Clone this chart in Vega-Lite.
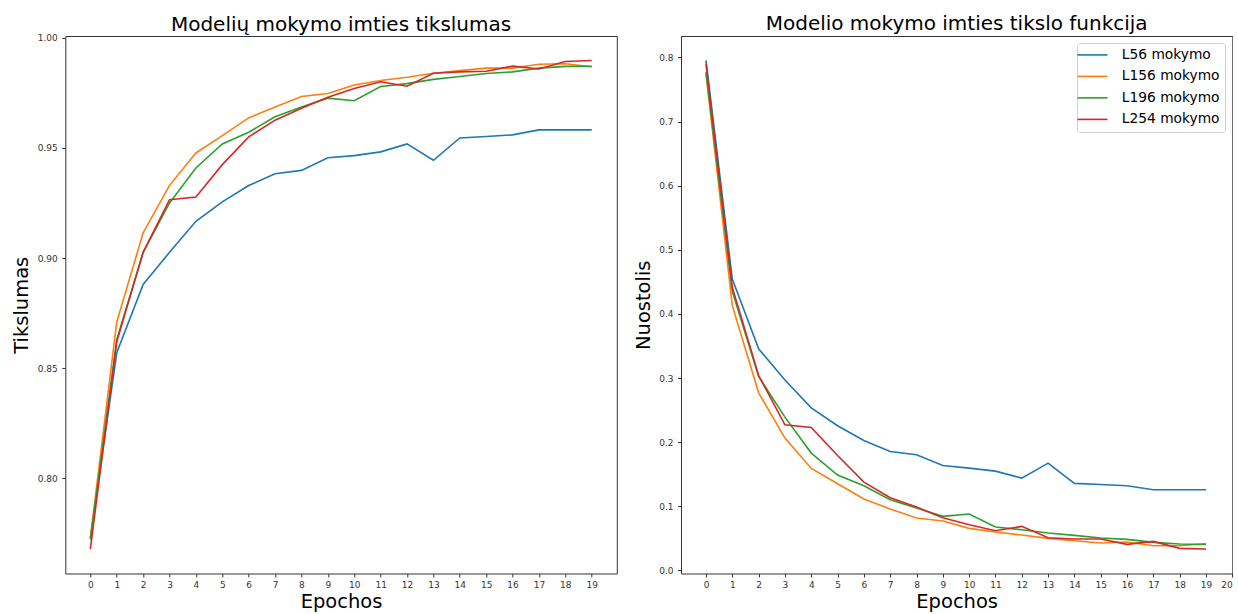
{
"$schema": "https://vega.github.io/schema/vega-lite/v6.json",
"background": "white",
"padding": {"left": 10.3, "top": 13, "right": 0, "bottom": 0},
"datasets": {
"acc": [
{"model":"L56 mokymo","epoch":0,"value":0.773},{"model":"L56 mokymo","epoch":1,"value":0.857},{"model":"L56 mokymo","epoch":2,"value":0.888},{"model":"L56 mokymo","epoch":3,"value":0.9026},{"model":"L56 mokymo","epoch":4,"value":0.9167},{"model":"L56 mokymo","epoch":5,"value":0.9255},{"model":"L56 mokymo","epoch":6,"value":0.9329},{"model":"L56 mokymo","epoch":7,"value":0.9383},{"model":"L56 mokymo","epoch":8,"value":0.9398},{"model":"L56 mokymo","epoch":9,"value":0.9455},{"model":"L56 mokymo","epoch":10,"value":0.9465},{"model":"L56 mokymo","epoch":11,"value":0.9482},{"model":"L56 mokymo","epoch":12,"value":0.9518},{"model":"L56 mokymo","epoch":13,"value":0.9444},{"model":"L56 mokymo","epoch":14,"value":0.9545},{"model":"L56 mokymo","epoch":15,"value":0.9552},{"model":"L56 mokymo","epoch":16,"value":0.9559},{"model":"L56 mokymo","epoch":17,"value":0.9582},{"model":"L56 mokymo","epoch":18,"value":0.9582},{"model":"L56 mokymo","epoch":19,"value":0.9582},
{"model":"L156 mokymo","epoch":0,"value":0.773},{"model":"L156 mokymo","epoch":1,"value":0.871},{"model":"L156 mokymo","epoch":2,"value":0.9114},{"model":"L156 mokymo","epoch":3,"value":0.933},{"model":"L156 mokymo","epoch":4,"value":0.9477},{"model":"L156 mokymo","epoch":5,"value":0.9556},{"model":"L156 mokymo","epoch":6,"value":0.9636},{"model":"L156 mokymo","epoch":7,"value":0.9686},{"model":"L156 mokymo","epoch":8,"value":0.9733},{"model":"L156 mokymo","epoch":9,"value":0.9747},{"model":"L156 mokymo","epoch":10,"value":0.9786},{"model":"L156 mokymo","epoch":11,"value":0.9806},{"model":"L156 mokymo","epoch":12,"value":0.9821},{"model":"L156 mokymo","epoch":13,"value":0.9839},{"model":"L156 mokymo","epoch":14,"value":0.9851},{"model":"L156 mokymo","epoch":15,"value":0.9862},{"model":"L156 mokymo","epoch":16,"value":0.9862},{"model":"L156 mokymo","epoch":17,"value":0.988},{"model":"L156 mokymo","epoch":18,"value":0.9882},{"model":"L156 mokymo","epoch":19,"value":0.9868},
{"model":"L196 mokymo","epoch":0,"value":0.7722},{"model":"L196 mokymo","epoch":1,"value":0.863},{"model":"L196 mokymo","epoch":2,"value":0.9026},{"model":"L196 mokymo","epoch":3,"value":0.925},{"model":"L196 mokymo","epoch":4,"value":0.9409},{"model":"L196 mokymo","epoch":5,"value":0.9518},{"model":"L196 mokymo","epoch":6,"value":0.9571},{"model":"L196 mokymo","epoch":7,"value":0.9641},{"model":"L196 mokymo","epoch":8,"value":0.9686},{"model":"L196 mokymo","epoch":9,"value":0.9726},{"model":"L196 mokymo","epoch":10,"value":0.9714},{"model":"L196 mokymo","epoch":11,"value":0.9779},{"model":"L196 mokymo","epoch":12,"value":0.9792},{"model":"L196 mokymo","epoch":13,"value":0.9811},{"model":"L196 mokymo","epoch":14,"value":0.9824},{"model":"L196 mokymo","epoch":15,"value":0.9838},{"model":"L196 mokymo","epoch":16,"value":0.9845},{"model":"L196 mokymo","epoch":17,"value":0.9862},{"model":"L196 mokymo","epoch":18,"value":0.987},{"model":"L196 mokymo","epoch":19,"value":0.9871},
{"model":"L254 mokymo","epoch":0,"value":0.7679},{"model":"L254 mokymo","epoch":1,"value":0.862},{"model":"L254 mokymo","epoch":2,"value":0.9026},{"model":"L254 mokymo","epoch":3,"value":0.9265},{"model":"L254 mokymo","epoch":4,"value":0.9277},{"model":"L254 mokymo","epoch":5,"value":0.9424},{"model":"L254 mokymo","epoch":6,"value":0.955},{"model":"L254 mokymo","epoch":7,"value":0.9626},{"model":"L254 mokymo","epoch":8,"value":0.968},{"model":"L254 mokymo","epoch":9,"value":0.973},{"model":"L254 mokymo","epoch":10,"value":0.977},{"model":"L254 mokymo","epoch":11,"value":0.98},{"model":"L254 mokymo","epoch":12,"value":0.978},{"model":"L254 mokymo","epoch":13,"value":0.9839},{"model":"L254 mokymo","epoch":14,"value":0.9845},{"model":"L254 mokymo","epoch":15,"value":0.9848},{"model":"L254 mokymo","epoch":16,"value":0.9871},{"model":"L254 mokymo","epoch":17,"value":0.9858},{"model":"L254 mokymo","epoch":18,"value":0.9892},{"model":"L254 mokymo","epoch":19,"value":0.9897}
],
"loss": [
{"model":"L56 mokymo","epoch":0,"value":0.7953},{"model":"L56 mokymo","epoch":1,"value":0.4542},{"model":"L56 mokymo","epoch":2,"value":0.3455},{"model":"L56 mokymo","epoch":3,"value":0.297},{"model":"L56 mokymo","epoch":4,"value":0.2535},{"model":"L56 mokymo","epoch":5,"value":0.2255},{"model":"L56 mokymo","epoch":6,"value":0.2026},{"model":"L56 mokymo","epoch":7,"value":0.1855},{"model":"L56 mokymo","epoch":8,"value":0.1803},{"model":"L56 mokymo","epoch":9,"value":0.1636},{"model":"L56 mokymo","epoch":10,"value":0.1595},{"model":"L56 mokymo","epoch":11,"value":0.1548},{"model":"L56 mokymo","epoch":12,"value":0.1439},{"model":"L56 mokymo","epoch":13,"value":0.1673},{"model":"L56 mokymo","epoch":14,"value":0.1356},{"model":"L56 mokymo","epoch":15,"value":0.134},{"model":"L56 mokymo","epoch":16,"value":0.132},{"model":"L56 mokymo","epoch":17,"value":0.1257},{"model":"L56 mokymo","epoch":18,"value":0.1257},{"model":"L56 mokymo","epoch":19,"value":0.1257},
{"model":"L156 mokymo","epoch":0,"value":0.775},{"model":"L156 mokymo","epoch":1,"value":0.4128},{"model":"L156 mokymo","epoch":2,"value":0.2769},{"model":"L156 mokymo","epoch":3,"value":0.2062},{"model":"L156 mokymo","epoch":4,"value":0.159},{"model":"L156 mokymo","epoch":5,"value":0.135},{"model":"L156 mokymo","epoch":6,"value":0.1112},{"model":"L156 mokymo","epoch":7,"value":0.0956},{"model":"L156 mokymo","epoch":8,"value":0.0816},{"model":"L156 mokymo","epoch":9,"value":0.0769},{"model":"L156 mokymo","epoch":10,"value":0.0655},{"model":"L156 mokymo","epoch":11,"value":0.0597},{"model":"L156 mokymo","epoch":12,"value":0.0551},{"model":"L156 mokymo","epoch":13,"value":0.0499},{"model":"L156 mokymo","epoch":14,"value":0.0462},{"model":"L156 mokymo","epoch":15,"value":0.0426},{"model":"L156 mokymo","epoch":16,"value":0.0442},{"model":"L156 mokymo","epoch":17,"value":0.0384},{"model":"L156 mokymo","epoch":18,"value":0.0384},{"model":"L156 mokymo","epoch":19,"value":0.0416},
{"model":"L196 mokymo","epoch":0,"value":0.777},{"model":"L196 mokymo","epoch":1,"value":0.435},{"model":"L196 mokymo","epoch":2,"value":0.3023},{"model":"L196 mokymo","epoch":3,"value":0.239},{"model":"L196 mokymo","epoch":4,"value":0.1829},{"model":"L196 mokymo","epoch":5,"value":0.1486},{"model":"L196 mokymo","epoch":6,"value":0.132},{"model":"L196 mokymo","epoch":7,"value":0.1101},{"model":"L196 mokymo","epoch":8,"value":0.0971},{"model":"L196 mokymo","epoch":9,"value":0.0842},{"model":"L196 mokymo","epoch":10,"value":0.0878},{"model":"L196 mokymo","epoch":11,"value":0.0675},{"model":"L196 mokymo","epoch":12,"value":0.0634},{"model":"L196 mokymo","epoch":13,"value":0.0582},{"model":"L196 mokymo","epoch":14,"value":0.0545},{"model":"L196 mokymo","epoch":15,"value":0.0504},{"model":"L196 mokymo","epoch":16,"value":0.0483},{"model":"L196 mokymo","epoch":17,"value":0.0436},{"model":"L196 mokymo","epoch":18,"value":0.041},{"model":"L196 mokymo","epoch":19,"value":0.0405},
{"model":"L254 mokymo","epoch":0,"value":0.79},{"model":"L254 mokymo","epoch":1,"value":0.4413},{"model":"L254 mokymo","epoch":2,"value":0.3039},{"model":"L254 mokymo","epoch":3,"value":0.227},{"model":"L254 mokymo","epoch":4,"value":0.2229},{"model":"L254 mokymo","epoch":5,"value":0.1792},{"model":"L254 mokymo","epoch":6,"value":0.1377},{"model":"L254 mokymo","epoch":7,"value":0.1132},{"model":"L254 mokymo","epoch":8,"value":0.0987},{"model":"L254 mokymo","epoch":9,"value":0.0821},{"model":"L254 mokymo","epoch":10,"value":0.0712},{"model":"L254 mokymo","epoch":11,"value":0.0618},{"model":"L254 mokymo","epoch":12,"value":0.0686},{"model":"L254 mokymo","epoch":13,"value":0.0509},{"model":"L254 mokymo","epoch":14,"value":0.0488},{"model":"L254 mokymo","epoch":15,"value":0.0488},{"model":"L254 mokymo","epoch":16,"value":0.0405},{"model":"L254 mokymo","epoch":17,"value":0.0452},{"model":"L254 mokymo","epoch":18,"value":0.0343},{"model":"L254 mokymo","epoch":19,"value":0.0332}
]
},
"spacing": 63.7,
"bounds": "flush",
"resolve": {"scale": {"x": "independent", "y": "independent", "color": "independent"}, "legend": {"color": "independent"}},
"hconcat": [
{
"width": 551.5,
"height": 537.5,
"title": {"text": "Modelių mokymo imties tikslumas", "offset": -1.5},
"data": {"name": "acc"},
"mark": {"type": "line", "strokeWidth": 1.6},
"encoding": {
"x": {"field": "epoch", "type": "quantitative", "scale": {"domain": [-0.95, 19.95], "nice": false, "zero": false}, "axis": {"title": "Epochos", "values": [0,1,2,3,4,5,6,7,8,9,10,11,12,13,14,15,16,17,18,19], "format": "d"}},
"y": {"field": "value", "type": "quantitative", "scale": {"domain": [0.7568, 1.0008], "nice": false, "zero": false}, "axis": {"title": "Tikslumas", "values": [0.8, 0.85, 0.9, 0.95, 1.0], "format": ".2f"}},
"color": {"field": "model", "type": "nominal", "scale": {"domain": ["L56 mokymo", "L156 mokymo", "L196 mokymo", "L254 mokymo"], "range": ["#1f77b4", "#ff7f0e", "#2ca02c", "#d62728"]}, "legend": null}
}
},
{
"width": 551.3,
"height": 537.5,
"title": {"text": "Modelio mokymo imties tikslo funkcija", "offset": 2.5},
"data": {"name": "loss"},
"mark": {"type": "line", "strokeWidth": 1.6},
"encoding": {
"x": {"field": "epoch", "type": "quantitative", "scale": {"domain": [-0.95, 20.0], "nice": false, "zero": false}, "axis": {"title": "Epochos", "values": [0,1,2,3,4,5,6,7,8,9,10,11,12,13,14,15,16,17,18,19,20], "format": "d"}},
"y": {"field": "value", "type": "quantitative", "scale": {"domain": [-0.0049, 0.8334], "nice": false, "zero": false}, "axis": {"title": "Nuostolis", "values": [0, 0.1, 0.2, 0.3, 0.4, 0.5, 0.6, 0.7, 0.8], "format": ".1f"}},
"color": {"field": "model", "type": "nominal", "scale": {"domain": ["L56 mokymo", "L156 mokymo", "L196 mokymo", "L254 mokymo"], "range": ["#1f77b4", "#ff7f0e", "#2ca02c", "#d62728"]}, "legend": {"title": null, "orient": "top-right"}}
}
}
],
"config": {
"font": "DejaVu Sans",
"view": {"stroke": "#333333", "strokeWidth": 1},
"axis": {"domain": false, "grid": false, "tickColor": "#333333", "tickSize": 3.5, "tickWidth": 1, "labelFont": "DejaVu Sans", "labelFontSize": 9, "labelColor": "#333333", "labelPadding": 4, "titleFont": "DejaVu Sans", "titleFontSize": 19.5, "titleFontWeight": "normal", "titleColor": "#000000"},
"axisX": {"titlePadding": 18, "titleBaseline": "alphabetic", "labelAngle": 0},
"axisY": {"titlePadding": 9.5, "titleBaseline": "alphabetic", "labelPadding": 4.5},
"title": {"font": "DejaVu Sans", "fontSize": 20, "fontWeight": "normal", "color": "#000000", "anchor": "middle", "baseline": "alphabetic", "frame": "group"},
"legend": {"offset": 7, "padding": 5, "strokeColor": "#d0d0d0", "fillColor": "#ffffff", "cornerRadius": 3, "symbolType": "M-3,0H3", "symbolSize": 100, "symbolStrokeWidth": 1.6, "symbolOffset": 3.6, "labelFont": "DejaVu Sans", "labelFontSize": 13.8, "labelColor": "#000000", "labelOffset": 22.4, "rowPadding": 6.5}
}
}
